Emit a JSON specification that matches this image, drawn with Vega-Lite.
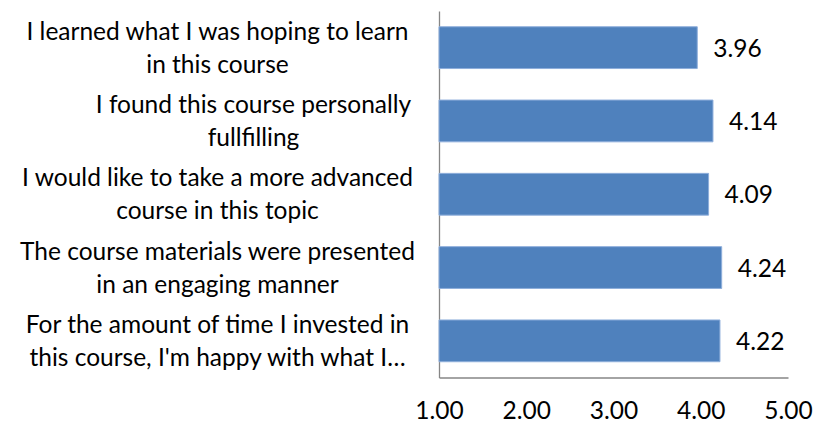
{
  "$schema": "https://vega.github.io/schema/vega-lite/v6.json",
  "autosize": {"type": "none"},
  "width": 349,
  "height": 366.5,
  "padding": {"left": 439, "top": 11, "right": 37, "bottom": 46.5},
  "background": "white",
  "config": {
    "view": {"stroke": null},
    "font": "Lato",
    "axis": {"labelFont": "Lato", "labelFontSize": 24.5, "labelColor": "black", "domainColor": "#868686", "domainWidth": 1.3, "ticks": false, "grid": false, "title": null}
  },
  "data": {
    "values": [
      {"q": "I learned what I was hoping to learn\nin this course", "score": 3.96},
      {"q": "I found this course personally\nfullfilling", "score": 4.14},
      {"q": "I would like to take a more advanced\ncourse in this topic", "score": 4.09},
      {"q": "The course materials were presented\nin an engaging manner", "score": 4.24},
      {"q": "For the amount of time I invested in\nthis course, I'm happy with what I…", "score": 4.22}
    ]
  },
  "encoding": {
    "y": {
      "field": "q", "type": "nominal", "sort": null,
      "scale": {"paddingInner": 0.43, "paddingOuter": 0.215},
      "axis": {
        "labelExpr": "split(datum.label, '\\n')",
        "labelAlign": "center",
        "labelBaseline": "middle",
        "labelLineHeight": 33,
        "labelOffset": -15,
        "labelPadding": {"condition": {"test": "datum.value == 'I found this course personally\\nfullfilling'", "value": 186}, "value": 222},
        "labelLimit": 0
      }
    },
    "x": {
      "field": "score", "type": "quantitative",
      "scale": {"domain": [1, 5], "nice": false, "zero": false},
      "axis": {"values": [1, 2, 3, 4, 5], "format": ".2f", "labelPadding": 22, "labelBaseline": "top", "labelFlush": false}
    }
  },
  "layer": [
    {"mark": {"type": "bar", "color": "#4F81BD", "stroke": "#8EAEDB", "strokeWidth": 1}, "encoding": {"x2": {"datum": 1}}},
    {"mark": {"type": "text", "align": "left", "baseline": "middle", "dx": 16, "dy": 2, "fontSize": 24.5, "font": "Lato", "color": "black"}, "encoding": {"text": {"field": "score", "type": "quantitative", "format": ".2f"}}}
  ]
}
